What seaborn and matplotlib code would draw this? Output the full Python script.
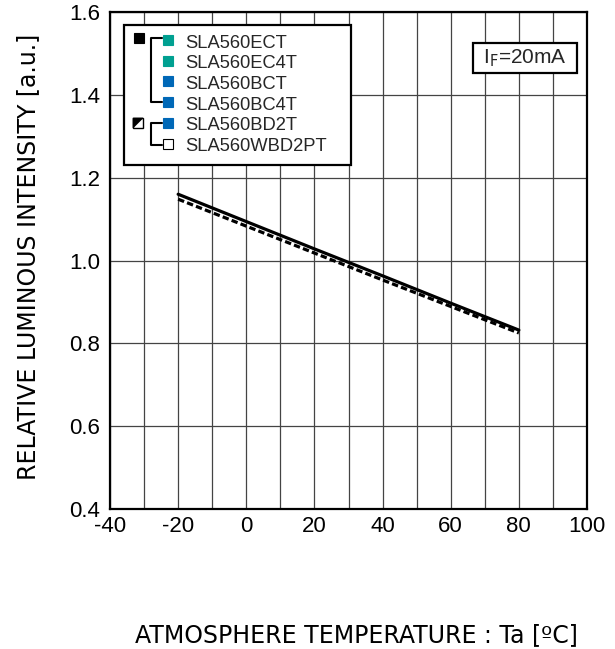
import pandas as pd
import matplotlib
matplotlib.use('Agg')
import matplotlib.pyplot as plt
from matplotlib.patches import Rectangle, Polygon
import seaborn as sns

# data
temp = [-20, 0, 20, 40, 60, 80]
intensity_solid = [1.160, 1.094, 1.028, 0.963, 0.897, 0.832]
intensity_dashed = [1.148, 1.083, 1.018, 0.953, 0.889, 0.825]
products = ['SLA560ECT', 'SLA560EC4T', 'SLA560BCT', 'SLA560BC4T',
            'SLA560BD2T', 'SLA560WBD2PT']
x_ticks = [-40, -20, 0, 20, 40, 60, 80, 100]
y_ticks = [0.4, 0.6, 0.8, 1.0, 1.2, 1.4, 1.6]

sns.set_theme(style='white')
plt.rcParams['font.family'] = ['Liberation Sans', 'DejaVu Sans']
plt.rcParams['axes.unicode_minus'] = False

df = pd.DataFrame({'temp': temp, 'solid': intensity_solid, 'dashed': intensity_dashed})

fig = plt.figure(figsize=(6.15, 6.49), dpi=100)
ax = fig.add_axes([110 / 615, 1 - 509 / 649, 477 / 615, 497 / 649])

sns.lineplot(data=df, x='temp', y='solid', color='black', lw=2.3, ax=ax, zorder=4)
sns.lineplot(data=df, x='temp', y='dashed', color='black', lw=2.3, ax=ax, zorder=4)
ax.lines[-1].set_dashes((2.0, 1.0))

ax.set_xlim(-40, 100)
ax.set_ylim(0.4, 1.6)
ax.set_xticks(x_ticks)
ax.set_xticks(range(-40, 101, 10), minor=True)
ax.set_yticks(y_ticks)
ax.set_yticklabels([f'{v:.1f}' for v in y_ticks])
ax.grid(True, which='both', axis='x', color='#444444', lw=0.9)
ax.grid(True, which='major', axis='y', color='#444444', lw=0.9)
ax.tick_params(axis='both', which='both', length=0, labelsize=16, colors='black')
ax.tick_params(axis='x', pad=5)
ax.tick_params(axis='y', pad=7)
for s in ax.spines.values():
    s.set_visible(True)
    s.set_color('black')
    s.set_linewidth(1.6)

ax.set_xlabel('ATMOSPHERE TEMPERATURE : Ta [ºC]', fontsize=17,
              family='DejaVu Sans', color='black')
ax.xaxis.set_label_coords(0.517, -0.229)
ax.set_ylabel('RELATIVE LUMINOUS INTENSITY [a.u.]', fontsize=17,
              family='DejaVu Sans', color='black')
ax.yaxis.set_label_coords(-0.147, 0.508)

# hand-drawn legend and condition box, in pixel coordinates
ov = fig.add_axes([0, 0, 1, 1])
ov.set_xlim(0, 615)
ov.set_ylim(649, 0)
ov.axis('off')
ov.patch.set_alpha(0)

ov.add_patch(Rectangle((124, 25), 227, 140, fc='white', ec='black', lw=1.6))
ov.add_patch(Rectangle((473, 43), 104, 30, fc='white', ec='black', lw=1.6))
ov.text(525, 58.5, r'I$_\mathrm{F}$=20mA', fontsize=15, ha='center', va='center')

sq_colors = ['#00a091', '#00a091', '#0068b7', '#0068b7', '#0068b7', 'white']
row_y = [43 + 20.7 * i for i in range(len(products))]
for name, c, y in zip(products, sq_colors, row_y):
    ov.add_patch(Rectangle((163, y - 8), 10, 10, fc=c, ec='black' if c == 'white' else c, lw=0.8))
    ov.text(185, y, name, fontsize=13.2, va='center', ha='left')

# group markers
ov.add_patch(Rectangle((134, 33), 10, 10, fc='black', ec='black', lw=0.8))
ov.add_patch(Rectangle((133, 118), 10, 10, fc='white', ec='black', lw=1.0))
ov.add_patch(Polygon([(133, 118), (143, 118), (133, 128)], closed=True, fc='black', ec='black', lw=0.5))

# brackets
ov.plot([161.5, 151, 151, 161.5], [38, 38, 102, 102], color='black', lw=1.5)
ov.plot([161.5, 151, 151, 161.5], [123, 123, 145, 145], color='black', lw=1.5)

fig.savefig('out.png', dpi=100)
